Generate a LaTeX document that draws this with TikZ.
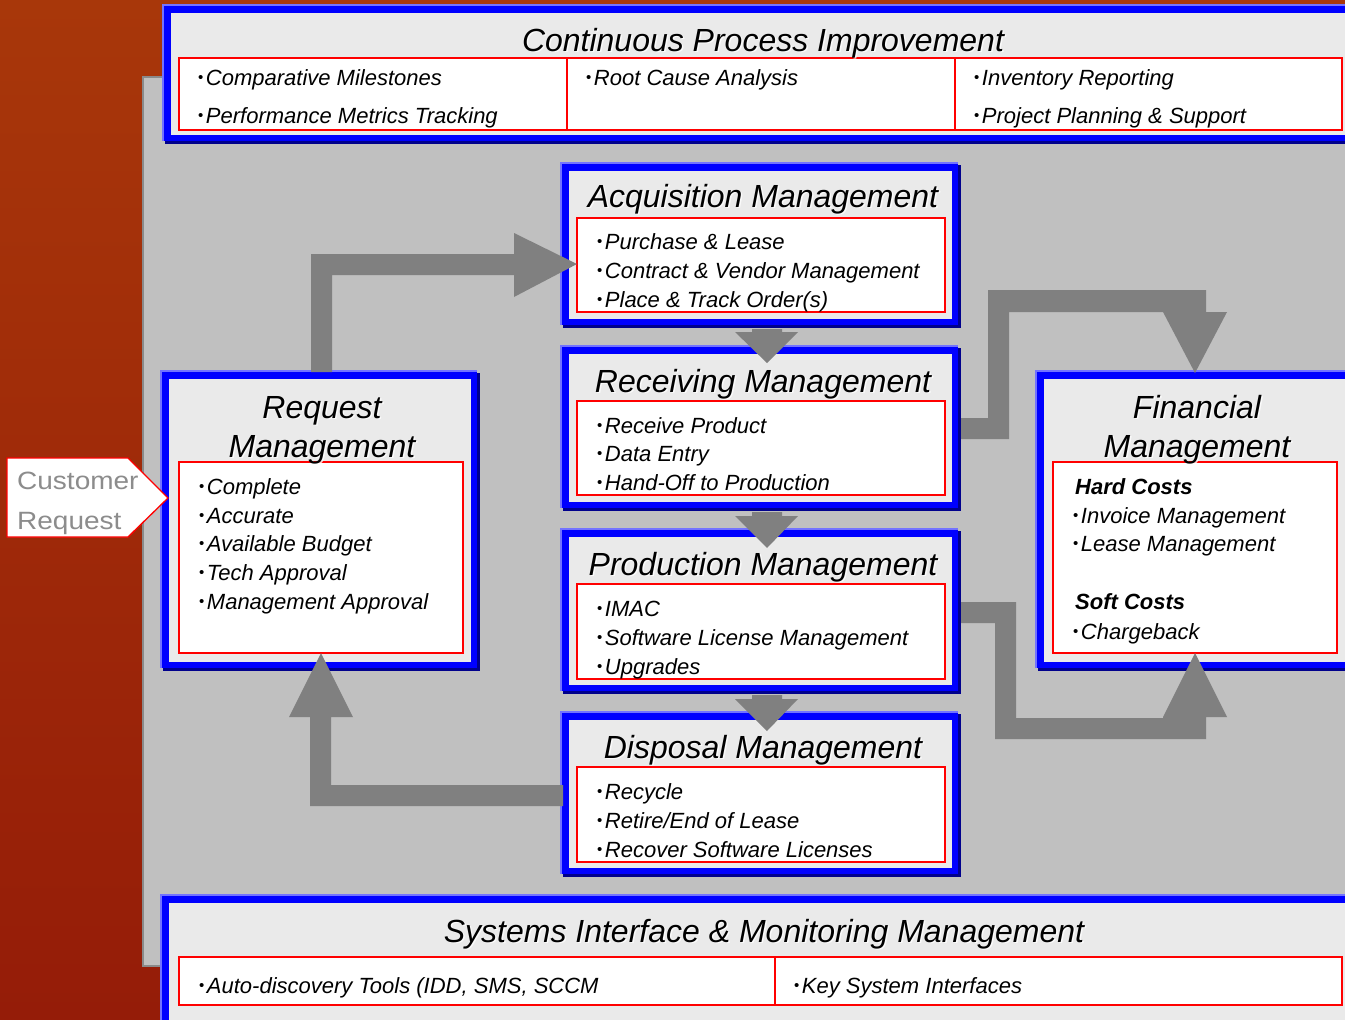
\documentclass[tikz,border=0pt]{standalone}
\usepackage{fontspec}
\usepackage{graphicx}
\setmainfont{Liberation Sans}
\definecolor{bgA}{HTML}{A8370A}
\definecolor{bgB}{HTML}{951C08}
\definecolor{panelC}{HTML}{C0C0C0}
\definecolor{panelEdge}{HTML}{8A8A8A}
\definecolor{boxfill}{HTML}{EAEAEA}
\definecolor{blueC}{HTML}{0000FF}
\definecolor{navyC}{HTML}{00008C}
\definecolor{ltblue}{HTML}{7373FF}
\definecolor{arrowC}{HTML}{808080}
\definecolor{redC}{HTML}{FF0000}
\definecolor{crgray}{HTML}{8C8C8C}
\newcommand\mybox[5]{%
  \fill[navyC] (#2+3,#3+3) rectangle (#4+3,#5+3);
  \fill[ltblue] (#2,#3) rectangle (#4,#5);
  \fill[blueC] (#2+2,#3+2) rectangle (#4,#5);
  \fill[boxfill] (#2+9,#3+9) rectangle (#4-6,#5-6);
  \coordinate (#1) at ({(#2+#4)/2},{(#3+#5)/2});}
\newcommand\ttl[4]{%
  \node[title,text=white,opacity=0.8] at (#2+1.5,#3+1.5) {#4};
  \node[title] (#1) at (#2,#3) {#4};}
\newcommand\bl{{\upshape\fontsize{15}{15}\selectfont\raisebox{2.5pt}{•}}\hspace{2.5pt}}
\begin{document}
\begin{tikzpicture}[x=1pt,y=-1pt,
  title/.style={font=\fontsize{32}{36}\selectfont\itshape, anchor=base, inner sep=0},
  item/.style={font=\fontsize{22}{26}\selectfont\itshape, anchor=base west, inner sep=0},
  hd/.style={font=\fontsize{22}{26}\selectfont\bfseries\itshape, anchor=base west, inner sep=0},
  redbox/.style={draw=redC, line width=1.3pt, fill=white},
  blockarrow/.style={fill=arrowC, draw=none},
  crtext/.style={font=\fontsize{25}{28}\selectfont, text=crgray, anchor=base west, inner sep=0}]
\useasboundingbox (0,0) rectangle (1345,1020);
% background
\shade[top color=bgA, bottom color=bgB] (0,0) rectangle (1345,1020);
\filldraw[fill=panelC, draw=panelEdge, line width=1.5pt] (143,77) rectangle (1360,966);

% boxes
\mybox{cpi}{162}{4}{1400}{141}
\mybox{acq}{560}{162}{958}{325}
\mybox{rec}{560}{345}{958}{508}
\mybox{prod}{560}{528}{958}{691}
\mybox{disp}{560}{711}{958}{874}
\mybox{req}{160}{370}{477}{668}
\mybox{fin}{1035}{370}{1400}{668}
\mybox{sys}{160}{894}{1400}{1040}

% red inner boxes
\draw[redbox] (179,58) rectangle (1342,130);
\draw[redC, line width=1.3pt] (567,58) -- (567,130) (955,58) -- (955,130);
\draw[redbox] (577,218) rectangle (945,312);
\draw[redbox] (577,401) rectangle (945,495);
\draw[redbox] (577,584) rectangle (945,679);
\draw[redbox] (577,767) rectangle (945,862);
\draw[redbox] (179,462) rectangle (463,653);
\draw[redbox] (1053,462) rectangle (1337,653);
\draw[redbox] (179,957) rectangle (1342,1005);
\draw[redC, line width=1.3pt] (775,957) -- (775,1005);

% L-shaped block arrows (on top of boxes)
\fill[blockarrow] (311,372) -- (311,254) -- (514,254) -- (514,233) -- (577,264)
  -- (514,297) -- (514,275) -- (332,275) -- (332,372) -- cycle;
\fill[blockarrow] (961,418) -- (988,418) -- (988,290) -- (1206,290) -- (1206,312)
  -- (1227,312) -- (1195,373) -- (1163,312) -- (1009,312) -- (1009,439) -- (961,439) -- cycle;
\fill[blockarrow] (961,602) -- (1016,602) -- (1016,718) -- (1163,718) -- (1163,717)
  -- (1195,653) -- (1227,717) -- (1206,717) -- (1206,739) -- (995,739) -- (995,623) -- (961,623) -- cycle;
\fill[blockarrow] (563,785) -- (331,785) -- (331,717) -- (353,717) -- (321,653)
  -- (289,717) -- (310,717) -- (310,806) -- (563,806) -- cycle;

% small down arrows between the stacked boxes
\fill[blockarrow] (752,329) -- (782,329) -- (782,332) -- (798,332) -- (767,363) -- (735,332) -- (752,332) -- cycle;
\fill[blockarrow] (752,512) -- (782,512) -- (782,516) -- (798,516) -- (767,548) -- (735,516) -- (752,516) -- cycle;
\fill[blockarrow] (752,695) -- (782,695) -- (782,699) -- (798,699) -- (767,731) -- (735,699) -- (752,699) -- cycle;

% customer request
\filldraw[fill=white, draw=redC, line width=1.3pt] (7,458) -- (128,458) -- (168,498) -- (128,537) -- (7,537) -- cycle;
\node[crtext] (cr1) at (17,489) {\scalebox{1.12}[1]{Customer}};
\node[crtext] (cr2) at (17,529) {\scalebox{1.12}[1]{Request}};

% titles
\ttl{t1}{763}{51}{Continuous Process Improvement}
\ttl{t2}{763}{207}{Acquisition Management}
\ttl{t3}{763}{392}{Receiving Management}
\ttl{t4}{763}{575}{Production Management}
\ttl{t5}{763}{758}{Disposal Management}
\ttl{t6a}{322}{418}{Request}
\ttl{t6b}{322}{457}{Management}
\ttl{t7a}{1197}{418}{Financial}
\ttl{t7b}{1197}{457}{Management}
\ttl{t8}{764}{942}{Systems Interface \& Monitoring Management}

% top items
\node[item] (c1) at (198,85) {\bl Comparative Milestones};
\node[item] (c2) at (198,123) {\bl Performance Metrics Tracking};
\node[item] (c3) at (586,85) {\bl Root Cause Analysis};
\node[item] (c4) at (974,85) {\bl Inventory Reporting};
\node[item] (c5) at (974,123) {\bl Project Planning \& Support};
% acquisition
\node[item] (a1) at (597,249) {\bl Purchase \& Lease};
\node[item] (a2) at (597,278) {\bl Contract \& Vendor Management};
\node[item] (a3) at (597,307) {\bl Place \& Track Order(s)};
% receiving
\node[item] (r1) at (597,433) {\bl Receive Product};
\node[item] (r2) at (597,461) {\bl Data Entry};
\node[item] (r3) at (597,490) {\bl Hand-Off to Production};
% production
\node[item] (p1) at (597,616) {\bl IMAC};
\node[item] (p2) at (597,645) {\bl Software License Management};
\node[item] (p3) at (597,674) {\bl Upgrades};
% disposal
\node[item] (d1) at (597,799) {\bl Recycle};
\node[item] (d2) at (597,828) {\bl Retire/End of Lease};
\node[item] (d3) at (597,857) {\bl Recover Software Licenses};
% request
\node[item] (q1) at (199,494) {\bl Complete};
\node[item] (q2) at (199,523) {\bl Accurate};
\node[item] (q3) at (199,551) {\bl Available Budget};
\node[item] (q4) at (199,580) {\bl Tech Approval};
\node[item] (q5) at (199,609) {\bl Management Approval};
% financial
\node[hd] (f0) at (1075,494) {Hard Costs};
\node[item] (f1) at (1073,523) {\bl Invoice Management};
\node[item] (f2) at (1073,551) {\bl Lease Management};
\node[hd] (f3) at (1075,609) {Soft Costs};
\node[item] (f4) at (1073,639) {\bl Chargeback};
% systems
\node[item] (s1) at (199,993) {\bl Auto-discovery Tools (IDD, SMS, SCCM};
\node[item] (s2) at (794,993) {\bl Key System Interfaces};
\end{tikzpicture}
\end{document}
